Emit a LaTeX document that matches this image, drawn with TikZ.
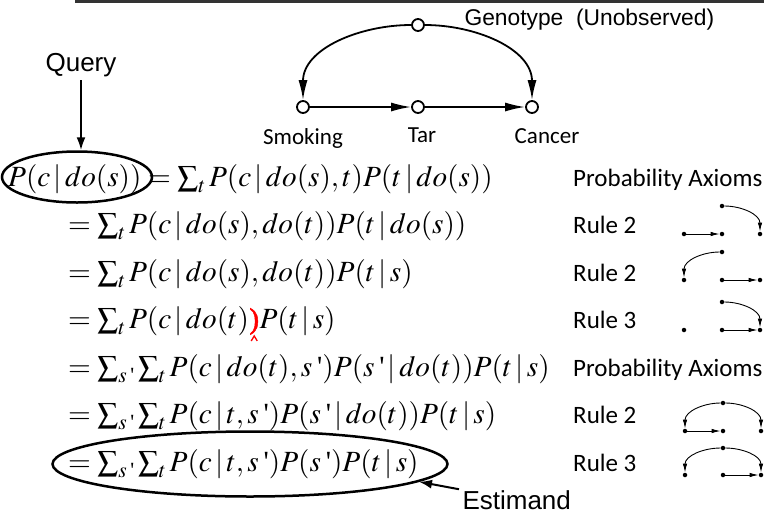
\documentclass[tikz,border=0pt]{standalone}
\usepackage[no-math]{fontspec}
\usepackage{amsmath}
\usepackage{mathptmx}
\usepackage{tikz}
\usetikzlibrary{arrows.meta,positioning,shapes.geometric}
\newfontfamily\arialfont{Liberation Sans}
\newfontfamily\califont{Carlito}
\newfontfamily\serifup{Liberation Serif}
\newfontfamily\parfont[FakeBold=1.6]{Liberation Serif}
\newcommand{\gv}{\,|\,}
\newcommand{\pr}{\text{\serifup\,'}}

\begin{document}
\begin{tikzpicture}[x=1pt,y=1pt,node distance=38pt]
\tikzstyle{circ}=[draw=black,circle,line width=1.8pt,inner sep=0pt,minimum size=12pt]
\tikzstyle{dot}=[circle,fill=black,inner sep=0pt,minimum size=4.5pt]
\tikzstyle{arrow}=[line width=1.8pt,-{Latex[length=20pt,width=9pt]}]
\tikzstyle{parrow}=[line width=2pt,-{Latex[length=13pt,width=9pt]}]
\tikzstyle{sarrow}=[line width=0.9pt,-{Latex[length=9pt,width=4.5pt]}]
\tikzstyle{oval}=[draw,ellipse,line width=2.5pt,inner sep=0pt]
\tikzstyle{eq}=[anchor=base west,inner sep=0pt,font=\fontsize{29.3}{35}\selectfont]
\tikzstyle{rulelbl}=[anchor=base west,inner sep=0pt,font=\califont\fontsize{25}{30}\selectfont]
\tikzstyle{lbl}=[inner sep=0pt,font=\califont\fontsize{23}{27}\selectfont]
\tikzstyle{sans}=[font=\arialfont\fontsize{26}{30}\selectfont]
\useasboundingbox (0,0) rectangle (764,-515);
% rule on top
\draw[line width=2.5pt,black!80] (75,-1.5) -- (764,-1.5);
% causal graph
\node[circ] (S) at (303,-107) {};
\node[circ,right of=S,node distance=115pt] (T) {};
\node[circ,right of=T,node distance=114pt] (C) {};
\node[circ,above of=T,node distance=82pt] (G) {};
\node[lbl,below=14pt of S] (sl) {Smoking};
\node[lbl,below=14pt of T,xshift=4pt] (tl) {Tar};
\node[lbl,below=14pt of C,xshift=15pt] (cl) {Cancer};
\node[anchor=west,font=\arialfont\fontsize{22.8}{26}\selectfont] (gl) at (461,-20) {Genotype~~(Unobserved)};
\draw[arrow] (S) -- (T);
\draw[arrow] (T) -- (C);
\draw[arrow] (G) to[out=180,in=90] (S);
\draw[arrow] (G) to[out=0,in=90] (C);
% query and estimand
\node[sans] (query) at (81,-65) {Query};
\node[oval,minimum width=150pt,minimum height=51pt] (qe) at (77,-177) {};
\draw[parrow] (query) -- (query |- qe.north);
\node[oval,minimum width=395pt,minimum height=65pt] (ee) at (250,-464) {};
\node[sans,anchor=west] (est) at (459,-500) {Estimand};
\draw[parrow] (est) -- (ee.-6);
% derivation
\node[eq] (q) at (8,-186) {$P(c\gv do(s))$};
\node[eq] (e1) at (148,-186) {$=\sum_t P(c\gv do(s),t)P(t\gv do(s))$};
\node[eq] (e2) at (68,-233.5) {$=\sum_t P(c\gv do(s),do(t))P(t\gv do(s))$};
\node[eq] (e3) at (68,-281) {$=\sum_t P(c\gv do(s),do(t))P(t\gv s)$};
\node[eq] (e4) at (68,-328.5) {$=\sum_t P(c\gv do(t)$};
\node[eq,text=red] (rp) at (e4.base east) {\parfont )};
\node[eq] (e4b) at (rp.base east) {$P(t\gv s)$};
\coordinate[below=1pt of rp] (cr);
\draw[red,line width=1.3pt] ([xshift=-3pt,yshift=-5pt]cr) -- (cr) -- ([xshift=3pt,yshift=-5pt]cr);
\node[eq] (e5) at (68,-376) {$=\sum_{s\pr}\sum_t P(c\gv do(t),s\pr)P(s\pr\gv do(t))P(t\gv s)$};
\node[eq] (e6) at (68,-423.5) {$=\sum_{s\pr}\sum_t P(c\gv t,s\pr)P(s\pr\gv do(t))P(t\gv s)$};
\node[eq] (e7) at (68,-471) {$=\sum_{s\pr}\sum_t P(c\gv t,s\pr)P(s\pr)P(t\gv s)$};
% rules
\node[rulelbl] (r1) at (573,-186) {Probability Axioms};
\node[rulelbl] (r2) at (573,-233.5) {Rule 2};
\node[rulelbl] (r3) at (573,-281) {Rule 2};
\node[rulelbl] (r4) at (573,-328.5) {Rule 3};
\node[rulelbl] (r5) at (573,-376) {Probability Axioms};
\node[rulelbl] (r6) at (573,-423.5) {Rule 2};
\node[rulelbl] (r7) at (573,-471) {Rule 3};
% small graphs
\node[dot] (s2) at (684,-234) {};
\node[dot,right of=s2] (t2) {};
\node[dot,right of=t2] (c2) {};
\node[dot,above of=t2,node distance=28pt] (u2) {};
\draw[sarrow] (s2) -- (t2);
\draw[sarrow] (u2) to[out=0,in=90] (c2);
\node[dot] (s3) at (684,-280) {};
\node[dot,right of=s3] (t3) {};
\node[dot,right of=t3] (c3) {};
\node[dot,above of=t3,node distance=28pt] (u3) {};
\draw[sarrow] (u3) to[out=180,in=90] (s3);
\draw[sarrow] (t3) -- (c3);
\node[dot] (s4) at (684,-330) {};
\node[dot,right of=s4] (t4) {};
\node[dot,right of=t4] (c4) {};
\node[dot,above of=t4,node distance=28pt] (u4) {};
\draw[sarrow] (t4) -- (c4);
\draw[sarrow] (u4) to[out=0,in=90] (c4);
\node[dot] (s6) at (685,-431) {};
\node[dot,right of=s6] (t6) {};
\node[dot,right of=t6] (c6) {};
\node[dot,above of=t6,node distance=28pt] (u6) {};
\draw[sarrow] (u6) to[out=180,in=90] (s6);
\draw[sarrow] (u6) to[out=0,in=90] (c6);
\draw[sarrow] (s6) -- (t6);
\node[dot] (s7) at (685,-475) {};
\node[dot,right of=s7] (t7) {};
\node[dot,right of=t7] (c7) {};
\node[dot,above of=t7,node distance=27pt] (u7) {};
\draw[sarrow] (u7) to[out=180,in=90] (s7);
\draw[sarrow] (u7) to[out=0,in=90] (c7);
\draw[sarrow] (t7) -- (c7);
\end{tikzpicture}
\end{document}
